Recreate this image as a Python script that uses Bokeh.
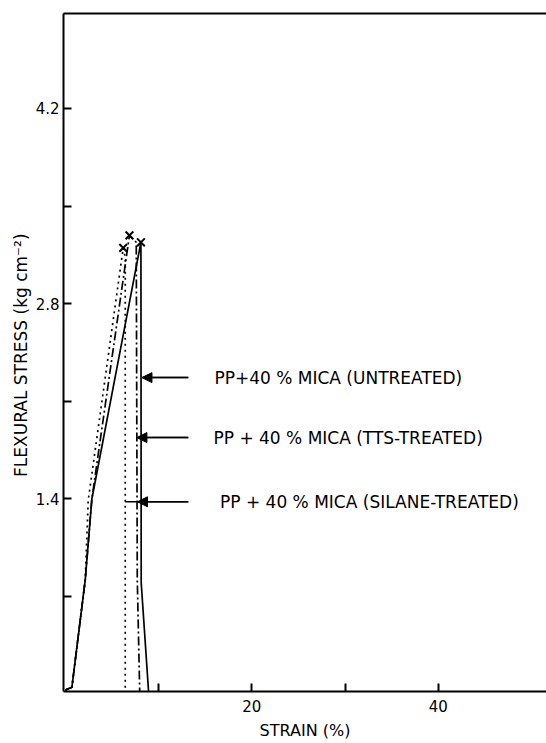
from bokeh.plotting import figure
from bokeh.models import (Range1d, FixedTicker, LinearAxis, Arrow, NormalHead,
                          ColumnDataSource)
from bokeh.core.properties import value
from bokeh.embed import file_html
from bokeh.resources import INLINE

# ---- data (strain %, flexural stress kg cm^-2) ----
series_names = ["UNTREATED", "TTS-TREATED", "SILANE-TREATED"]

untreated_strain = [0.0, 0.72, 2.15, 2.86, 8.12, 8.15, 8.94]
untreated_stress = [0.03, 0.05, 0.82, 1.40, 3.24, 0.80, 0.02]

tts_strain = [0.0, 0.72, 2.15, 2.86, 6.89, 7.62, 7.73, 7.99]
tts_stress = [0.03, 0.05, 0.82, 1.40, 3.29, 3.24, 0.82, 0.02]

silane_strain = [0.0, 0.72, 2.15, 2.47, 6.22, 6.44, 6.44]
silane_stress = [0.03, 0.05, 0.82, 1.39, 3.20, 3.13, 0.02]

# failure points (x marks)
break_strain = [8.12, 6.89, 6.22]
break_stress = [3.24, 3.29, 3.20]

x_major_ticks = [20, 40]
x_minor_ticks = [10, 30]
y_major_ticks = [1.4, 2.8, 4.2]
y_minor_ticks = [0.7, 2.1, 3.5]

labels = ["PP+40 % MICA (UNTREATED)",
          "PP + 40 % MICA (TTS-TREATED)",
          "PP + 40 % MICA (SILANE-TREATED)"]

# ---- annotation placement (not data) ----
label_y = [2.27, 1.84, 1.38]
label_x = [16.0, 15.9, 16.6]
shaft_start_x = [13.2, 13.2, 13.2]
head_x = [8.23, 7.69, 7.75]
shaft_end_x = [8.23, 7.69, 6.44]

FONT = "DejaVu Sans"

p = figure(width=546, height=743, output_backend="svg", toolbar_location=None,
           x_range=Range1d(-0.18, 51.6), y_range=Range1d(0.02, 4.88),
           min_border_left=63, min_border_right=0, min_border_top=13,
           min_border_bottom=52)
p.outline_line_color = None
p.background_fill_color = "white"
p.border_fill_color = "white"
p.grid.visible = False

for ax in (p.xaxis[0], p.yaxis[0]):
    ax.axis_line_color = "black"
    ax.axis_line_width = 2
    ax.major_tick_line_color = "black"
    ax.major_tick_line_width = 2
    ax.minor_tick_line_color = "black"
    ax.minor_tick_line_width = 2
    ax.major_tick_in = 8
    ax.major_tick_out = 0
    ax.minor_tick_in = 8
    ax.minor_tick_out = 0
    ax.major_label_text_font = FONT
    ax.major_label_text_font_size = "15px"
    ax.major_label_text_color = "black"
    ax.axis_label_text_font = FONT
    ax.axis_label_text_font_style = "normal"
    ax.axis_label_text_font_size = "16px"
    ax.axis_label_text_color = "black"

p.xaxis[0].ticker = FixedTicker(ticks=x_major_ticks, minor_ticks=x_minor_ticks)
p.xaxis[0].major_label_standoff = 8
p.xaxis[0].axis_label = "STRAIN (%)"
p.xaxis[0].axis_label_standoff = 6
p.yaxis[0].ticker = FixedTicker(ticks=y_major_ticks, minor_ticks=y_minor_ticks)
p.yaxis[0].major_label_standoff = 4
p.yaxis[0].axis_label = "FLEXURAL STRESS  (kg cm\u207b\u00b2)"
p.yaxis[0].axis_label_text_font_size = "17px"
p.yaxis[0].axis_label_standoff = 2

# top border line
top = LinearAxis(ticker=FixedTicker(ticks=[]), major_tick_in=0, major_tick_out=0,
                 minor_tick_in=0, minor_tick_out=0, axis_line_width=2,
                 axis_line_color="black", major_label_text_font_size="0px")
p.add_layout(top, "above")

# curves
p.line(untreated_strain, untreated_stress, line_color="black", line_width=1.7)
p.line(tts_strain, tts_stress, line_color="black", line_width=1.7,
       line_dash="9 3 2 3")
p.line(silane_strain, silane_stress, line_color="black", line_width=1.7,
       line_dash="2 4")
p.scatter(break_strain, break_stress, marker="x", size=11, line_width=2,
          line_color="black")

# labels with arrows
src = ColumnDataSource(dict(x=label_x, y=label_y, t=labels))
p.text(x="x", y="y", text="t", source=src, text_font=value(FONT),
       text_font_size="17px", text_color="black", text_align="left",
       text_baseline="middle")
for i in range(3):
    p.segment(x0=[shaft_start_x[i]], y0=[label_y[i]], x1=[shaft_end_x[i]],
              y1=[label_y[i]], line_color="black", line_width=1.5)
    p.add_layout(Arrow(end=NormalHead(size=10, fill_color="black",
                                      line_color="black"),
                       x_start=shaft_start_x[i], y_start=label_y[i],
                       x_end=head_x[i], y_end=label_y[i],
                       line_color="black", line_width=1.5))

open("out.html", "w").write(file_html(p, INLINE))
